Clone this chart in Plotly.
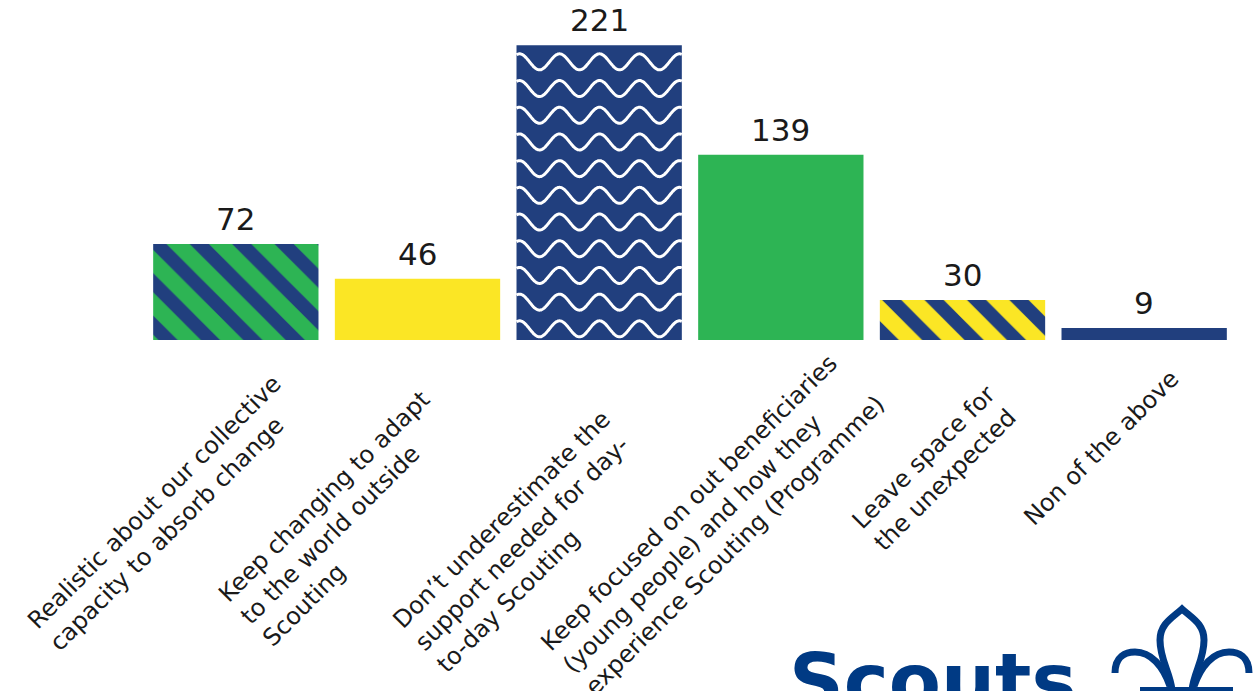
import numpy as np
import plotly.graph_objects as go

# ---- data -------------------------------------------------------------
categories = [
    "Realistic about our collective<br>capacity to absorb change",
    "Keep changing to adapt<br>to the world outside<br>Scouting",
    "Don’t underestimate the<br>support needed for day-<br>to-day Scouting",
    "Keep focused on out beneficiaries<br>(young people) and how they<br>experience Scouting (Programme)",
    "Leave space for<br>the unexpected",
    "Non of the above",
]
responses = [72, 46, 221, 139, 30, 9]

# ---- styling ----------------------------------------------------------
NAVY = "#213F7E"
GREEN = "#2DB454"
YELLOW = "#FBE625"
LOGO_NAVY = "#003A84"
TEXT = "#1A1A1A"
FONT = "DejaVu Sans"

bar_colors = [GREEN, YELLOW, NAVY, GREEN, YELLOW, NAVY]
bar_patterns = ["\\", "", "", "", "\\", ""]
WAVY_BAR = 2  # the bar that carries the white wave texture

W, H = 1259, 691
ML, MR, MT, MB = 145, 24, 20, 351
PW, PH = W - ML - MR, H - MT - MB
Y_MAX = 240
BARGAP = 0.09

# label placement (pixels): horizontal shift from the bar centre and
# the row used as the top anchor of each rotated label block
label_shift = [75, 64, 63, 112, 63, 43]
label_top = [367, 383, 403, 343, 378, 362]


def px_x(p):
    return (p - ML) / PW


def px_y(p):
    return (H - MB - p) / PH


x_pos = list(range(len(categories)))

fig = go.Figure()
# one trace per bar so each can carry its own stripe colours
for i, val in enumerate(responses):
    marker = dict(color=bar_colors[i], line=dict(width=0))
    if bar_patterns[i]:
        marker["pattern"] = dict(shape=bar_patterns[i], fgcolor=NAVY,
                                 bgcolor=bar_colors[i], fgopacity=1,
                                 size=30, solidity=0.45)
    fig.add_trace(go.Bar(
        x=[x_pos[i]], y=[val], marker=marker,
        hoverinfo="skip", showlegend=False,
    ))

# white wavy texture on the tall navy bar
bar_w = 1 - BARGAP
units_per_px_y = Y_MAX / PH
units_per_px_x = len(categories) / PW
wave_len = 40 * units_per_px_x
wave_amp = 8 * units_per_px_y
row_step = 26.7 * units_per_px_y
first_row = 16.5 * units_per_px_y
v = responses[WAVY_BAR]
left = WAVY_BAR - bar_w / 2
xs = np.linspace(left, left + bar_w, 240)
wx, wy = [], []
centre = v - first_row
while centre - wave_amp > -0.5 * wave_amp:
    ys = centre + wave_amp * np.cos(2 * np.pi * (xs - left - 3 * units_per_px_x) / wave_len)
    ys = np.clip(ys, 0, v)
    wx += list(xs) + [None]
    wy += list(ys) + [None]
    centre -= row_step
fig.add_trace(go.Scatter(
    x=wx, y=wy, mode="lines",
    line=dict(color="white", width=3, shape="spline"),
    hoverinfo="skip", showlegend=False,
))

annotations = []

# value labels above the bars
for i, val in enumerate(responses):
    annotations.append(dict(
        x=i, xref="x", y=val, yref="y", yshift=5,
        text=str(val), showarrow=False, xanchor="center", yanchor="bottom",
        font=dict(family=FONT, size=31, color=TEXT),
    ))

# rotated category labels
for i, text in enumerate(categories):
    annotations.append(dict(
        x=i, xref="x", xshift=label_shift[i],
        y=px_y(label_top[i]), yref="paper",
        text=text, showarrow=False, textangle=-45, align="left",
        xanchor="right", yanchor="top",
        font=dict(family=FONT, size=24, color=TEXT),
    ))

# Scouts word mark
annotations.append(dict(
    x=px_x(787), xref="paper", y=px_y(681), yref="paper",
    text="<b>Scouts</b>", showarrow=False, xanchor="left", yanchor="middle",
    font=dict(family=FONT, size=76, color=LOGO_NAVY),
))


def path_px(d):
    """Convert an SVG path written in pixel units into paper units."""
    out = []
    for tok in d.split():
        if "," in tok:
            a, b = tok.split(",")
            out.append(f"{px_x(float(a)):.5f},{px_y(float(b)):.5f}")
        else:
            out.append(tok)
    return " ".join(out)


fleur_paths = [
    "M 1172,690 C 1170,672 1160,660 1160,640 C 1160,624 1172,618 1182,609 "
    "C 1192,618 1204,624 1204,640 C 1204,660 1194,672 1192,690",
    "M 1115,673 C 1115,656 1126,652 1135,652 C 1151,652 1163,666 1170,686",
    "M 1249,673 C 1249,656 1238,652 1229,652 C 1213,652 1201,666 1194,686",
]
shapes = [
    dict(type="path", xref="paper", yref="paper", path=path_px(p),
         line=dict(color=LOGO_NAVY, width=7), fillcolor="rgba(0,0,0,0)")
    for p in fleur_paths
]
shapes.append(dict(
    type="rect", xref="paper", yref="paper",
    x0=px_x(1140), x1=px_x(1233), y0=px_y(698), y1=px_y(687),
    line=dict(width=0), fillcolor=LOGO_NAVY,
))

fig.update_layout(
    width=W, height=H,
    margin=dict(l=ML, r=MR, t=MT, b=MB, pad=0),
    paper_bgcolor="white", plot_bgcolor="white",
    barmode="overlay",
    bargap=BARGAP,
    xaxis=dict(range=[-0.5, len(categories) - 0.5], showticklabels=False,
               showgrid=False, zeroline=False, showline=False, ticks=""),
    yaxis=dict(range=[0, Y_MAX], visible=False, showgrid=False, zeroline=False),
    annotations=annotations,
    shapes=shapes,
    font=dict(family=FONT),
)

fig.write_html("out.html", include_plotlyjs=True)
